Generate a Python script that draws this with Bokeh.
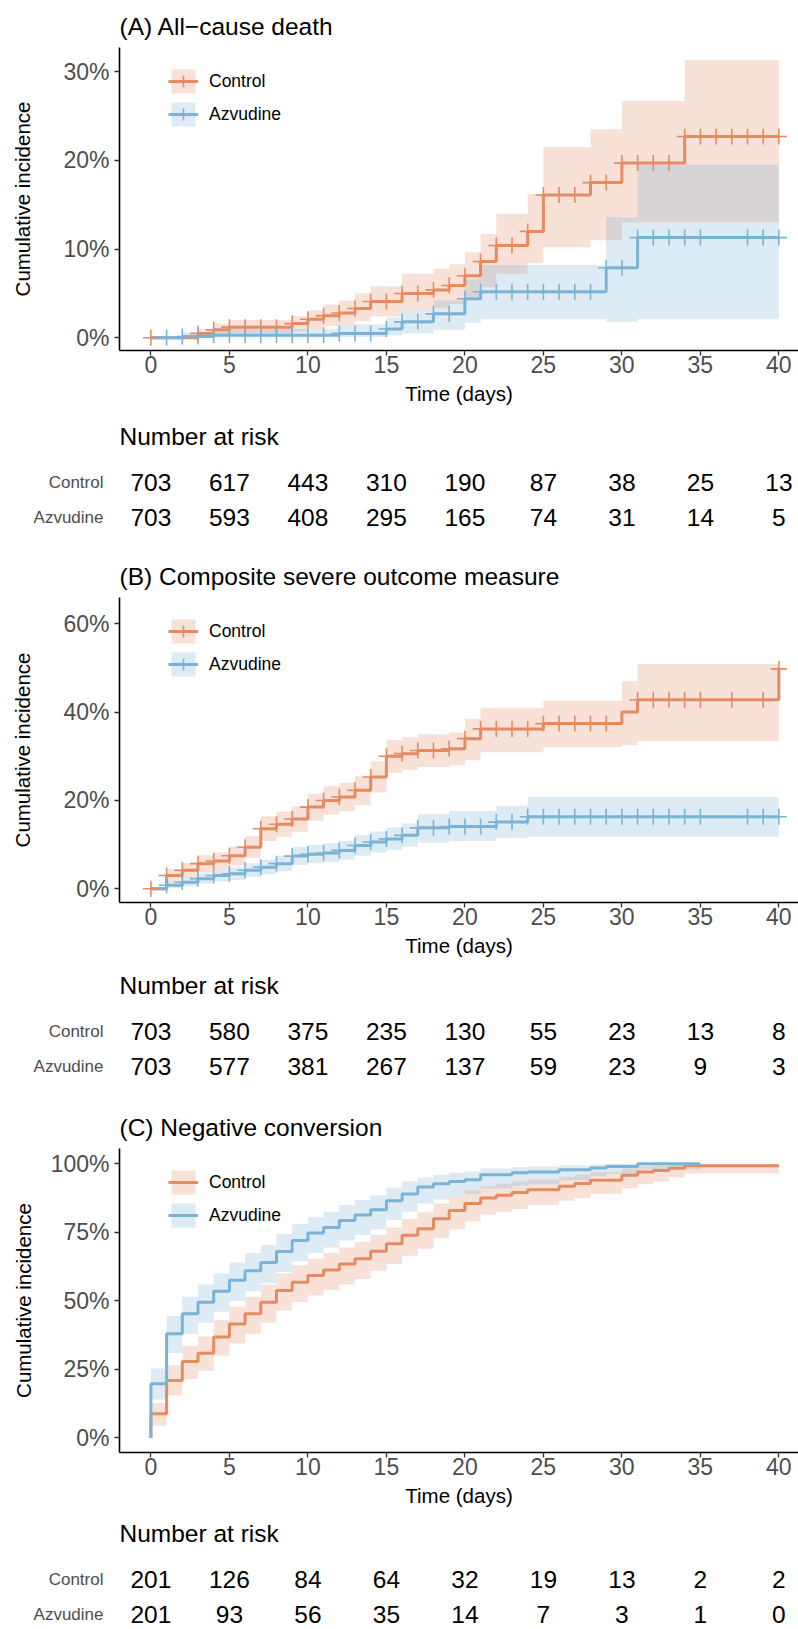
import numpy as np
from bokeh.plotting import figure
from bokeh.layouts import column
from bokeh.models import (Range1d, FixedTicker, PrintfTickFormatter, Legend, LegendItem)
from bokeh.core.properties import value
from bokeh.embed import file_html
from bokeh.resources import INLINE

FONT = "Liberation Sans"
ORANGE = "#E58B62"
BLUE = "#7AB3D6"
GROUPS = ["Control", "Azvudine"]
COLORS = [ORANGE, BLUE]

x_ticks = [0, 5, 10, 15, 20, 25, 30, 35, 40]
risk_times = [0, 5, 10, 15, 20, 25, 30, 35, 40]

# ---------------- Panel A: All-cause death ----------------
a_title = "(A) All\u2212cause death"
a_yticks = [0, 10, 20, 30]
a_ctrl_t = [0, 3, 4, 5, 9, 10, 11, 12, 13, 14, 16, 18, 19, 20, 21, 22, 24, 25, 28, 30, 34]
a_ctrl_v = [0, 0.5, 0.9, 1.2, 1.6, 2.1, 2.5, 2.8, 3.3, 4.1, 5.0, 5.4, 5.9, 7.0, 8.6, 10.4, 12.0, 16.1, 17.5, 19.7, 22.7]
a_ctrl_lo = [0, 0.1, 0.3, 0.5, 0.7, 1.0, 1.3, 1.5, 1.9, 2.4, 3.1, 3.4, 3.8, 4.6, 5.7, 7.2, 8.4, 10.2, 11.0, 13.0, 13.0]
a_ctrl_hi = [0, 1.0, 1.6, 2.0, 2.5, 3.1, 3.75, 4.2, 5.0, 5.8, 7.2, 7.8, 8.3, 9.65, 11.7, 14.0, 16.2, 21.5, 23.5, 26.7, 31.3]
a_ctrl_end = 40
a_ctrl_cens = [0, 3, 4, 5, 6, 7, 8, 9, 10, 11, 12, 13, 14, 15, 16, 17, 18, 19, 20, 21, 22, 23, 24,
               25, 26, 27, 28, 29, 30, 31, 32, 33, 34, 35, 36, 37, 38, 39, 40]
a_azv_t = [0, 2, 4, 12, 15, 16, 18, 20, 21, 29, 31]
a_azv_v = [0, 0.15, 0.3, 0.5, 1.0, 1.8, 2.7, 4.4, 5.2, 7.9, 11.3]
a_azv_lo = [0, 0, 0.05, 0.1, 0.3, 0.5, 0.9, 1.7, 2.1, 1.8, 2.1]
a_azv_hi = [0, 0.6, 1.0, 1.5, 2.3, 3.1, 4.2, 6.6, 8.2, 13.6, 19.5]
a_azv_end = 40
a_azv_cens = [1, 2, 3, 4, 5, 6, 7, 8, 9, 10, 11, 12, 13, 14, 15, 16, 17, 18, 19, 20, 21, 22, 23,
              24, 25, 26, 27, 28, 29, 30, 31, 32, 33, 34, 35, 38, 39, 40]
a_risk_ctrl = [703, 617, 443, 310, 190, 87, 38, 25, 13]
a_risk_azv = [703, 593, 408, 295, 165, 74, 31, 14, 5]

# ---------------- Panel B: Composite severe outcome ----------------
b_title = "(B) Composite severe outcome measure"
b_yticks = [0, 20, 40, 60]
b_ctrl_t = [0, 1, 2, 3, 4, 5, 6, 7, 8, 9, 10, 11, 12, 13, 14, 15, 16, 17, 19, 20, 21, 25, 30, 31, 40]
b_ctrl_v = [0, 3.0, 4.2, 5.7, 6.3, 7.5, 9.4, 13.6, 14.6, 15.8, 18.5, 20.0, 20.8, 22.3, 25.3, 30.0,
            30.6, 31.3, 31.7, 34.0, 36.2, 37.4, 40.0, 42.8, 49.8]
b_ctrl_lo = [0, 1.5, 2.5, 3.7, 4.3, 5.3, 7.0, 10.8, 11.8, 12.9, 15.4, 16.8, 17.6, 19.0, 21.8, 26.3,
             26.9, 27.6, 28.0, 29.1, 30.9, 32.1, 32.5, 33.4, 33.4]
b_ctrl_hi = [0, 4.5, 5.9, 7.6, 8.3, 9.7, 11.9, 16.4, 17.5, 18.7, 21.6, 23.2, 24.0, 25.6, 28.8, 33.7,
             34.3, 35.0, 35.4, 38.5, 41.0, 42.6, 47.0, 50.9, 50.9]
b_ctrl_end = 40
b_ctrl_cens = [0, 1, 2, 3, 4, 5, 6, 7, 8, 9, 10, 11, 12, 13, 14, 15, 16, 17, 18, 19, 20, 21, 22,
               23, 24, 25, 26, 27, 28, 29, 31, 32, 33, 34, 35, 37, 39, 40]
b_azv_t = [0, 1, 2, 3, 4, 5, 6, 7, 8, 9, 10, 11, 12, 13, 14, 15, 16, 17, 19, 22, 24]
b_azv_v = [0, 0.8, 1.5, 2.3, 3.0, 3.4, 4.2, 4.9, 5.7, 7.4, 7.8, 8.1, 8.7, 9.8, 10.6, 11.3, 12.1,
           13.8, 14.1, 15.1, 16.3]
b_azv_lo = [0, 0.2, 0.6, 1.2, 1.7, 2.0, 2.7, 3.3, 4.0, 5.4, 5.8, 6.1, 6.6, 7.5, 8.2, 8.8, 9.5,
            10.5, 10.8, 11.5, 11.8]
b_azv_hi = [0, 1.6, 2.6, 3.5, 4.3, 4.8, 5.8, 6.6, 7.5, 9.5, 10.0, 10.3, 10.9, 12.2, 13.0, 13.9,
            14.8, 16.9, 17.6, 18.8, 20.8]
b_azv_end = 40
b_azv_cens = [1, 2, 3, 4, 5, 6, 7, 8, 9, 10, 11, 12, 13, 14, 15, 16, 17, 18, 19, 20, 21, 22, 23,
              24, 25, 26, 27, 28, 29, 30, 31, 32, 33, 34, 35, 38, 39, 40]
b_risk_ctrl = [703, 580, 375, 235, 130, 55, 23, 13, 8]
b_risk_azv = [703, 577, 381, 267, 137, 59, 23, 9, 3]

# ---------------- Panel C: Negative conversion ----------------
c_title = "(C) Negative conversion"
c_yticks = [0, 25, 50, 75, 100]
c_ctrl_t = [0, 0, 1, 2, 3, 4, 5, 6, 7, 8, 9, 10, 11, 12, 13, 14, 15, 16, 17, 18, 19, 20, 21, 22,
            23, 24, 26, 27, 28, 30, 31, 32, 33, 34]
c_ctrl_v = [0, 8.8, 21.0, 27.9, 30.9, 36.8, 41.6, 45.3, 49.5, 53.8, 56.8, 59.3, 61.3, 63.5, 65.4,
            68.1, 70.8, 73.9, 76.3, 80.0, 83.0, 85.5, 87.5, 88.5, 89.5, 90.5, 91.8, 92.8, 94.0,
            95.8, 97.0, 97.6, 98.4, 99.3]
c_ctrl_lo = [0, 4.5, 15.5, 21.5, 24.5, 30.0, 34.5, 38.0, 42.0, 46.5, 49.5, 52.0, 54.0, 56.0, 58.0,
             61.0, 63.5, 66.5, 69.0, 73.0, 76.0, 79.0, 81.5, 82.5, 83.5, 85.0, 86.5, 87.5, 89.0,
             91.0, 92.5, 93.5, 95.0, 96.5]
c_ctrl_hi = [0, 12.8, 26.5, 33.5, 37.0, 43.0, 48.0, 51.5, 56.0, 60.0, 63.0, 65.5, 67.5, 69.5, 71.5,
             74.0, 76.8, 80.0, 82.3, 85.5, 88.0, 90.3, 91.8, 92.7, 93.5, 94.3, 95.3, 96.0, 97.0,
             98.3, 99.0, 99.3, 99.7, 100]
c_ctrl_end = 40
c_azv_t = [0, 0, 1, 2, 3, 4, 5, 6, 7, 8, 9, 10, 11, 12, 13, 14, 15, 16, 17, 18, 19, 20, 21, 23,
           24, 26, 28, 29, 31]
c_azv_v = [0, 19.8, 38.0, 45.3, 49.5, 53.5, 57.5, 61.0, 64.0, 68.0, 72.0, 74.8, 76.8, 79.3, 81.3,
           83.2, 86.5, 89.0, 91.5, 92.7, 93.5, 94.2, 96.0, 96.7, 97.0, 97.8, 98.5, 99.0, 100]
c_azv_lo = [0, 14.0, 31.0, 38.0, 42.0, 46.0, 50.0, 53.5, 56.5, 60.5, 64.5, 67.5, 69.5, 72.0, 74.0,
            76.0, 79.5, 82.5, 85.5, 87.0, 88.0, 89.0, 91.0, 92.0, 92.5, 94.0, 95.5, 96.5, 98.0]
c_azv_hi = [0, 25.3, 44.5, 51.5, 56.0, 60.0, 64.0, 67.5, 70.5, 74.5, 78.0, 80.5, 82.5, 85.0, 86.8,
            88.5, 91.3, 93.5, 95.0, 96.0, 96.7, 97.2, 98.3, 98.8, 99.0, 99.4, 99.7, 100, 100]
c_azv_end = 35
c_risk_ctrl = [201, 126, 84, 64, 32, 19, 13, 2, 2]
c_risk_azv = [201, 93, 56, 35, 14, 7, 3, 1, 0]

W = 798
LEFT = 119
X_RANGE = (-2, 41.25)
GREY = "#4D4D4D"
KM_H = 410


def ext(t, v, end):
    return list(t) + [end], list(v) + [v[-1]]


def km_figure(title, yrange, yticks, ylab_standoff, min_top, frame_h, series, with_cens):
    p = figure(width=W, height=KM_H, x_range=Range1d(*X_RANGE), y_range=Range1d(*yrange),
               output_backend="svg", toolbar_location=None,
               min_border_left=LEFT, min_border_right=0, min_border_top=min_top,
               min_border_bottom=KM_H - min_top - frame_h)
    p.title.text = title
    p.title.text_font = FONT
    p.title.text_font_size = "24.5px"
    p.title.text_font_style = "normal"
    p.title.text_color = "black"
    p.title.align = "left"
    p.title.standoff = 15
    p.outline_line_color = None
    p.xgrid.visible = False
    p.ygrid.visible = False

    bands, lines, crosses = [], [], []
    for (t, v, lo, hi, end, cens), col in zip(series, COLORS):
        xe, loe = ext(t, lo, end)
        _, hie = ext(t, hi, end)
        bands.append(p.varea_step(x=xe, y1=loe, y2=hie, step_mode="after",
                                  fill_color=col, fill_alpha=0.26))
    for (t, v, lo, hi, end, cens), col in zip(series, COLORS):
        xe, ve = ext(t, v, end)
        lines.append(p.step(x=xe, y=ve, mode="after", line_color=col, line_width=3))
    if with_cens:
        for (t, v, lo, hi, end, cens), col in zip(series, COLORS):
            tt = np.array(t, dtype=float)
            idx = np.searchsorted(tt, np.array(cens, dtype=float), side="right") - 1
            cy = [v[i] for i in idx]
            crosses.append(p.scatter(x=cens, y=cy, marker="cross", size=16,
                                     line_color=col, line_width=1.6))

    items = []
    for i, g in enumerate(GROUPS):
        rs = [bands[i], lines[i]] + ([crosses[i]] if with_cens else [])
        items.append(LegendItem(label=g, renderers=rs))
    leg = Legend(items=items, location=(49, frame_h - 19 - 63), glyph_width=30, glyph_height=30,
                 label_height=30, label_standoff=11, spacing=3, padding=0, margin=0,
                 border_line_color=None, background_fill_alpha=0,
                 label_text_font=FONT, label_text_font_size="17.5px", label_text_color="black")
    p.add_layout(leg)

    for ax in (p.xaxis[0], p.yaxis[0]):
        ax.axis_line_color = "black"
        ax.axis_line_width = 1.6
        ax.major_tick_line_color = "#333333"
        ax.major_tick_line_width = 1.3
        ax.major_tick_out = 5
        ax.major_tick_in = 0
        ax.minor_tick_line_color = None
        ax.major_label_text_font = FONT
        ax.major_label_text_font_size = "23px"
        ax.major_label_text_color = GREY
        ax.axis_label_text_font = FONT
        ax.axis_label_text_font_size = "20.5px"
        ax.axis_label_text_font_style = "normal"
        ax.axis_label_text_color = "black"
    p.xaxis.ticker = FixedTicker(ticks=x_ticks)
    p.xaxis.major_label_standoff = 0
    p.xaxis.axis_label = "Time (days)"
    p.xaxis.axis_label_standoff = 6
    p.yaxis.ticker = FixedTicker(ticks=yticks)
    p.yaxis.formatter = PrintfTickFormatter(format="%d%%")
    p.yaxis.major_label_standoff = 5
    p.yaxis.axis_label = "Cumulative incidence"
    p.yaxis.axis_label_standoff = ylab_standoff
    return p


def risk_figure(x_range, ctrl, azv, height, min_top):
    frame_h = height - min_top
    top = 1.806
    r = figure(width=W, height=height, x_range=x_range, y_range=Range1d(top - frame_h / 35.6, top),
               output_backend="svg", toolbar_location=None, x_axis_location=None,
               min_border_left=LEFT, min_border_right=0, min_border_top=min_top, min_border_bottom=0)
    r.title.text = "Number at risk"
    r.title.text_font = FONT
    r.title.text_font_size = "24.5px"
    r.title.text_font_style = "normal"
    r.title.text_color = "black"
    r.title.align = "left"
    r.title.standoff = 8
    r.outline_line_color = None
    r.xgrid.visible = False
    r.ygrid.visible = False
    rows = {g: len(GROUPS) - 1 - i for i, g in enumerate(GROUPS)}
    xs, ys, txt = [], [], []
    for g, counts in zip(GROUPS, (ctrl, azv)):
        for t, n in zip(risk_times, counts):
            xs.append(t)
            ys.append(rows[g])
            txt.append(str(n))
    r.text(x=xs, y=ys, text=txt, text_align="center", text_baseline="middle",
           text_font=value(FONT), text_font_size="24.5px", text_color="black")
    ax = r.yaxis[0]
    ax.ticker = FixedTicker(ticks=sorted(rows.values()))
    ax.major_label_overrides = {v: k for k, v in rows.items()}
    ax.axis_line_color = None
    ax.major_tick_line_color = None
    ax.minor_tick_line_color = None
    ax.major_label_standoff = 10
    ax.major_label_text_font = FONT
    ax.major_label_text_font_size = "17px"
    ax.major_label_text_color = GREY
    return r


fA = km_figure(a_title, (-1.43, 32.73), a_yticks, 26, 47, 303,
               [(a_ctrl_t, a_ctrl_v, a_ctrl_lo, a_ctrl_hi, a_ctrl_end, a_ctrl_cens),
                (a_azv_t, a_azv_v, a_azv_lo, a_azv_hi, a_azv_end, a_azv_cens)], True)
rA = risk_figure(fA.x_range, a_risk_ctrl, a_risk_azv, 139, 43)
fB = km_figure(b_title, (-3.10, 65.95), b_yticks, 26, 48, 305,
               [(b_ctrl_t, b_ctrl_v, b_ctrl_lo, b_ctrl_hi, b_ctrl_end, b_ctrl_cens),
                (b_azv_t, b_azv_v, b_azv_lo, b_azv_hi, b_azv_end, b_azv_cens)], True)
rB = risk_figure(fB.x_range, b_risk_ctrl, b_risk_azv, 140, 43)
fC = km_figure(c_title, (-5.29, 105.58), c_yticks, 13, 49, 304,
               [(c_ctrl_t, c_ctrl_v, c_ctrl_lo, c_ctrl_hi, c_ctrl_end, None),
                (c_azv_t, c_azv_v, c_azv_lo, c_azv_hi, c_azv_end, None)], False)
rC = risk_figure(fC.x_range, c_risk_ctrl, c_risk_azv, 120, 41)

layout = column(fA, rA, fB, rB, fC, rC, spacing=0)
open("out.html", "w").write(file_html(layout, INLINE))
